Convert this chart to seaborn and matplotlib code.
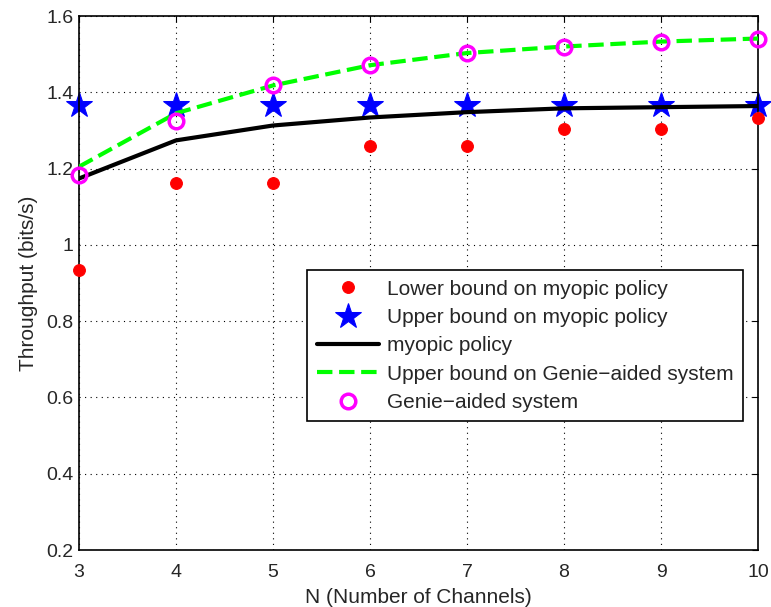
import matplotlib
matplotlib.use("Agg")
import matplotlib.pyplot as plt
import seaborn as sns
import numpy as np

N = [3, 4, 5, 6, 7, 8, 9, 10]
lower_bound = [0.934, 1.161, 1.161, 1.258, 1.258, 1.305, 1.305, 1.332]
upper_bound = [1.366, 1.366, 1.366, 1.366, 1.366, 1.366, 1.366, 1.366]
myopic = [1.174, 1.274, 1.313, 1.334, 1.348, 1.358, 1.361, 1.364]
genie_upper = [1.205, 1.345, 1.418, 1.471, 1.503, 1.520, 1.533, 1.541]
genie = [1.182, 1.326, 1.418, 1.471, 1.503, 1.519, 1.532, 1.539]

yticks = [0.2, 0.4, 0.6, 0.8, 1.0, 1.2, 1.4, 1.6]
yticklabels = ["0.2", "0.4", "0.6", "0.8", "1", "1.2", "1.4", "1.6"]

sns.set_style("white")
plt.rcParams['font.family'] = ['Liberation Sans', 'DejaVu Sans']

fig = plt.figure(figsize=(7.71, 6.07), dpi=100)
ax = fig.add_axes([0.1025, 0.0939, 0.8807, 0.8797])

sns.lineplot(x=N, y=lower_bound, ax=ax, linestyle='', marker='o', markersize=8.5,
             color='red', markeredgecolor='red', label='Lower bound on myopic policy',
             zorder=3, clip_on=False)
sns.lineplot(x=N, y=upper_bound, ax=ax, linestyle='', marker='*', markersize=19,
             color='blue', markeredgecolor='blue', label='Upper bound on myopic policy',
             zorder=2, clip_on=False)
sns.lineplot(x=N, y=myopic, ax=ax, color='black', linewidth=3, label='myopic policy', zorder=3)
sns.lineplot(x=N, y=genie_upper, ax=ax, color='#00ff00', linewidth=3, linestyle='--',
             dashes=(3, 2.5), label='Upper bound on Genie\u2212aided system', zorder=3)
sns.lineplot(x=N, y=genie, ax=ax, linestyle='', marker='o', markersize=10.5,
             markerfacecolor='none', markeredgecolor='magenta', markeredgewidth=2.5,
             color='magenta', label='Genie\u2212aided system', zorder=4, clip_on=False)

ax.set_xlim(3, 10)
ax.set_ylim(0.2, 1.6)
ax.set_xticks(N)
ax.set_xticklabels([str(n) for n in N], fontsize=14)
ax.set_yticks(yticks)
ax.set_yticklabels(yticklabels, fontsize=14)
ax.grid(True, color='black', linestyle=(0, (1, 4)), linewidth=0.8)
ax.tick_params(direction='in', length=4, top=True, right=True, color='black')
ax.tick_params(axis='x', pad=10)
ax.tick_params(axis='y', pad=4)
for s in ax.spines.values():
    s.set_visible(True)
    s.set_color('black')
    s.set_linewidth(1.2)

ax.set_xlabel('N (Number of Channels)', fontsize=15, labelpad=5)
ax.set_ylabel('Throughput (bits/s)', fontsize=15, labelpad=6)

leg = ax.legend(loc='upper left', bbox_to_anchor=(0.336, 0.524), borderaxespad=0,
                fontsize=15, frameon=True, fancybox=False, edgecolor='black',
                framealpha=1, handlelength=3.0, handletextpad=0.4,
                labelspacing=0.45, borderpad=0.45)
leg.get_frame().set_linewidth(1.2)

fig.savefig('out.png', dpi=100)
